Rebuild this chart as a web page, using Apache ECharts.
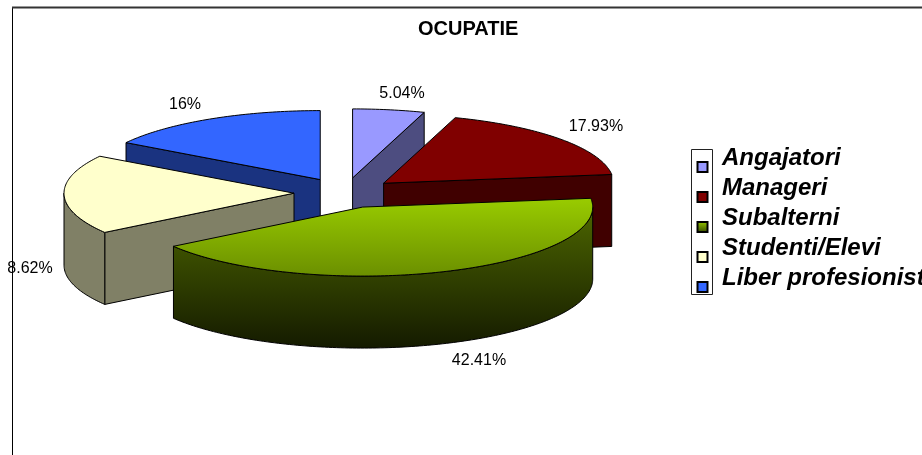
<!DOCTYPE html>
<html>
<head>
<meta charset="utf-8">
<style>
  html, body { margin: 0; padding: 0; background: #fff; overflow: hidden; }
  #chart { width: 922px; height: 455px; }
</style>
<script src="https://cdn.jsdelivr.net/npm/echarts@6/dist/echarts.min.js"></script>
</head>
<body>
<div id="chart"></div>
<script>
// slice shares (the drawn angles only close the circle with 18.62 for Studenti,
// the picture's label reads 8.62%)
const categories = ["Angajatori", "Manageri", "Subalterni", "Studenti/Elevi", "Liber profesionist"];
const values = [5.04, 17.93, 42.41, 18.62, 16];
const labels = ["5.04%", "17.93%", "42.41%", "8.62%", "16%"];
const labelAnchors = [[402, 94], [596, 127], [479, 361], [30, 269], [185, 105]];

const topColors = ["#9999ff", "#800000", null, "#ffffcc", "#3366ff"];
const wallColors = ["#4d4d80", "#400000", null, "#808066", "#1a3380"];

const FONT = '"Liberation Sans", Arial, sans-serif';
const center = [344.6, 192.9];
const RX = 230, RY = 69, DEPTH = 72, EXPLODE = 0.22;

const total = values.reduce((a, b) => a + b, 0);
const rad = (deg) => (deg * Math.PI) / 180;

const greenTop = new echarts.graphic.LinearGradient(0, 0, 0, 1, [
  { offset: 0, color: "#99cc00" },
  { offset: 1, color: "#6b8f00" },
]);
const greenWall = new echarts.graphic.LinearGradient(0, 0, 0, 1, [
  { offset: 0, color: "#4d6600" },
  { offset: 1, color: "#141a00" },
]);
const greenSwatch = new echarts.graphic.LinearGradient(0, 0, 0, 1, [
  { offset: 0, color: "#99cc00" },
  { offset: 1, color: "#334400" },
]);

function sliceAngles(i) {
  let start = 0;
  for (let k = 0; k < i; k++) start += (values[k] / total) * 360;
  return [start, start + (values[i] / total) * 360];
}

function renderSlice(i, api) {
  const [a0, a1] = sliceAngles(i);
  const value = api.value(0);
  const mid = rad((a0 + a1) / 2);
  // exploded apex of this slice
  const ax = center[0] + RX * EXPLODE * Math.sin(mid);
  const ay = center[1] - RY * EXPLODE * Math.cos(mid);
  const rimPoint = (deg, dy) => [ax + RX * Math.sin(rad(deg)), ay - RY * Math.cos(rad(deg)) + dy];
  const arc = (from, to, dy) => {
    const pts = [];
    const n = Math.max(2, Math.ceil(Math.abs(to - from)));
    for (let k = 0; k <= n; k++) pts.push(rimPoint(from + ((to - from) * k) / n, dy));
    return pts;
  };
  const stroke = { stroke: "#000", lineWidth: 1, lineJoin: "round" };
  const top = topColors[i] || greenTop;
  const wall = wallColors[i] || greenWall;
  const children = [];
  const wallFor = (deg) => {
    const p = rimPoint(deg, 0);
    children.push({
      type: "polygon",
      z2: 1,
      shape: { points: [[ax, ay], p, [p[0], p[1] + DEPTH], [ax, ay + DEPTH]] },
      style: Object.assign({ fill: wall }, stroke),
    });
  };
  // only the faces turned to the viewer
  if (Math.sin(rad(a1)) > 0.001) wallFor(a1);
  if (Math.sin(rad(a0)) < -0.001) wallFor(a0);
  const r0 = Math.max(a0, 90), r1 = Math.min(a1, 270);
  if (r1 > r0) {
    children.push({
      type: "polygon",
      z2: 2,
      shape: { points: arc(r0, r1, 0).concat(arc(r1, r0, DEPTH)) },
      style: Object.assign({ fill: wall }, stroke),
    });
  }
  children.push({
    type: "polygon",
    z2: 3,
    shape: { points: [[ax, ay]].concat(arc(a0, a1, 0)) },
    style: Object.assign({ fill: top }, stroke),
  });
  children.push({
    type: "text",
    z2: 4,
    style: {
      text: labels[i],
      x: labelAnchors[i][0],
      y: labelAnchors[i][1],
      align: "center",
      verticalAlign: "middle",
      font: "16px " + FONT,
      fill: "#000",
    },
  });
  return { type: "group", info: value, children: children };
}

const chart = echarts.init(document.getElementById("chart"), null, { renderer: "canvas" });

chart.setOption({
  animation: false,
  backgroundColor: "#fff",
  title: {
    text: "OCUPATIE",
    left: 418,
    top: 19,
    padding: 0,
    textStyle: { fontFamily: FONT, fontWeight: "bold", fontSize: 20, color: "#000" },
  },
  legend: [
    // swatches and names do not line up in the picture, so two legends
    {
      data: categories,
      orient: "vertical",
      left: 696.5,
      top: 161,
      padding: 0,
      itemWidth: 10,
      itemHeight: 10,
      itemGap: 18,
      icon: "rect",
      selectedMode: false,
      formatter: () => "",
      textStyle: { fontSize: 1, lineHeight: 10 },
    },
    {
      data: categories,
      orient: "vertical",
      left: 716,
      top: 143,
      padding: 0,
      itemWidth: 0,
      itemHeight: 0,
      itemGap: 0,
      icon: "rect",
      selectedMode: false,
      textStyle: {
        fontFamily: FONT,
        fontWeight: "bold",
        fontStyle: "italic",
        fontSize: 24,
        lineHeight: 30,
        color: "#000",
      },
    },
  ],
  graphic: [
    { type: "line", silent: true, z: 0, shape: { x1: 12.5, y1: 7, x2: 12.5, y2: 460 }, style: { stroke: "#000", lineWidth: 1 } },
    { type: "line", silent: true, z: 0, shape: { x1: 12, y1: 7.5, x2: 930, y2: 7.5 }, style: { stroke: "#333", lineWidth: 2 } },
    { type: "rect", silent: true, z: 0, shape: { x: 691.5, y: 149.5, width: 21, height: 145 }, style: { stroke: "#222", lineWidth: 1, fill: "#fff" } },
  ],
  series: categories.map((name, i) => {
    const [a0, a1] = sliceAngles(i);
    return {
      name: name,
      type: "custom",
      coordinateSystem: "none",
      z: Math.round(4 + (1 - Math.cos(rad((a0 + a1) / 2))) * 10),
      data: [[values[i]]],
      itemStyle: { color: topColors[i] || greenSwatch, borderColor: "#000", borderWidth: 1 },
      renderItem: (params, api) => renderSlice(i, api),
    };
  }),
});
</script>
</body>
</html>
